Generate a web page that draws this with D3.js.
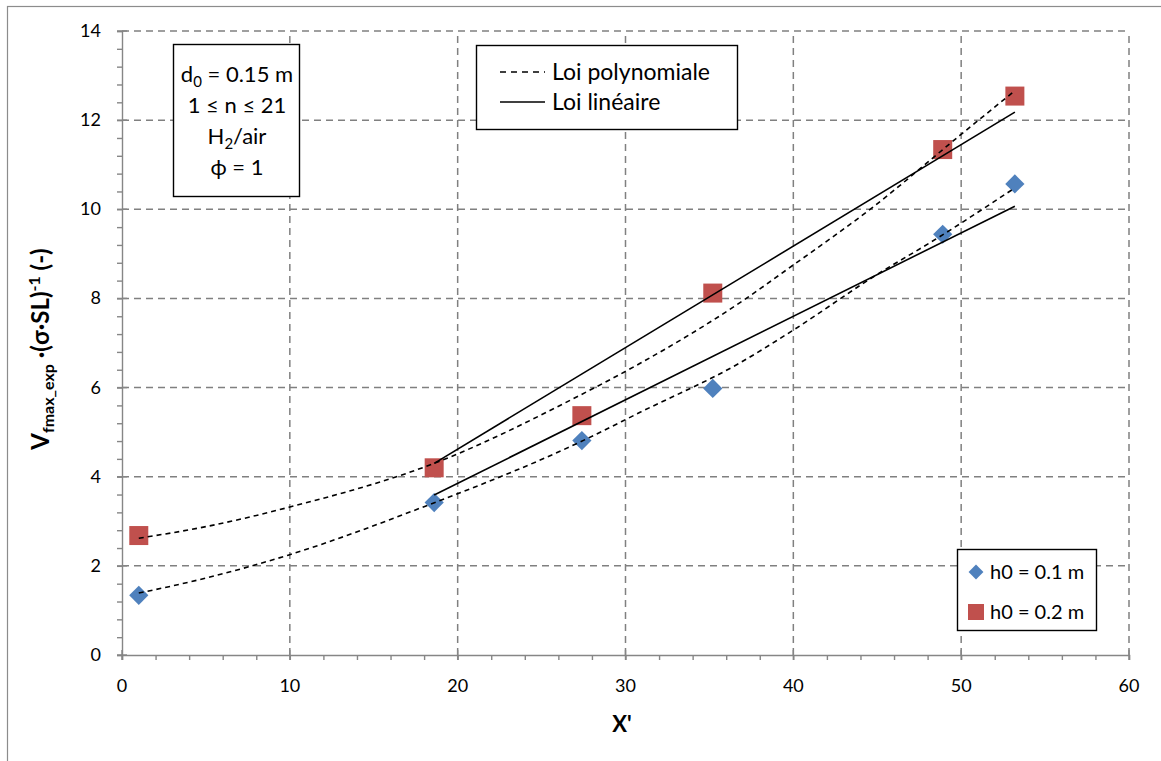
<!DOCTYPE html>
<html><head><meta charset="utf-8">
<script src="https://cdn.jsdelivr.net/npm/d3@7"></script>
<style>
body{margin:0;background:#fff;}
text{font-family:Lato,"Open Sans",sans-serif;fill:#000;}
</style></head>
<body><svg id="c" width="1161" height="761"></svg>
<script>
// ---- data ----
const xH1 = [1, 18.6, 27.4, 35.2, 48.9, 53.2];
const yH1 = [1.34, 3.42, 4.81, 5.98, 9.44, 10.57];
const xH2 = [1, 18.6, 27.4, 35.2, 48.9, 53.2];
const yH2 = [2.68, 4.2, 5.37, 8.12, 11.34, 12.54];
// polynomial trend curves
const polyH1x = [1, 4.5, 9.9, 17.8, 27.3, 30.9, 36.8, 40, 44.75, 48.7, 53.2];
const polyH1y = [1.39, 1.68, 2.24, 3.3, 4.78, 5.45, 6.55, 7.29, 8.48, 9.38, 10.48];
const polyH2x = [1, 5, 10, 18.6, 27.3, 30.9, 36.8, 40, 44.75, 49.9, 53.2];
const polyH2y = [2.62, 2.88, 3.32, 4.3, 5.83, 6.55, 7.9, 8.75, 10.05, 11.65, 12.66];
// linear trend lines
const linH1x = [18.6, 53.2];
const linH1y = [3.59, 10.07];
const linH2x = [18.6, 53.2];
const linH2y = [4.3, 12.18];
const xTicks = [0, 10, 20, 30, 40, 50, 60];
const yTicks = [0, 2, 4, 6, 8, 10, 12, 14];
const legendSeries = ["h0 = 0.1 m", "h0 = 0.2 m"];
const legendLines = ["Loi polynomiale", "Loi linéaire"];

const svg = d3.select("#c");
const L = 122, R = 1129, T = 31, B = 655;
const x = d3.scaleLinear().domain([0, 60]).range([L, R]);
const y = d3.scaleLinear().domain([0, 14]).range([B, T]);
const axisCol = "#868686";

// outer border
svg.append("rect").attr("x", 7.5).attr("y", 6.5).attr("width", 1170).attr("height", 770)
  .attr("fill", "none").attr("stroke", "#8c8c8c").attr("stroke-width", 1.2);

// grid
const g = svg.append("g");
g.selectAll(".gx").data(xTicks.slice(1)).join("line")
  .attr("x1", d => x(d)).attr("x2", d => x(d)).attr("y1", B).attr("y2", T)
  .attr("stroke", "#808080").attr("stroke-width", 1.5).attr("stroke-dasharray", "7,5");
g.selectAll(".gy").data(yTicks.slice(1)).join("line")
  .attr("x1", L).attr("x2", R).attr("y1", d => y(d)).attr("y2", d => y(d))
  .attr("stroke", "#808080").attr("stroke-width", 1.5).attr("stroke-dasharray", "7,5");

// axes
const xAxis = d3.axisBottom(x).tickValues(d3.range(0, 61, 2)).tickSize(5).tickFormat("");
const xa = svg.append("g").attr("transform", `translate(0,${B})`).call(xAxis);
const yAxis = d3.axisLeft(y).tickValues(d3.range(0, 36).map(i => +(i * 0.4).toFixed(1))).tickSize(5).tickFormat("");
const ya = svg.append("g").attr("transform", `translate(${L},0)`).call(yAxis);
[xa, ya].forEach(a => { a.selectAll("path,line").attr("stroke", axisCol).attr("stroke-width", 1.4); });
// major ticks crossing
xa.append("g").selectAll("line").data(xTicks).join("line")
  .attr("x1", d => x(d)).attr("x2", d => x(d)).attr("y1", -5).attr("y2", 5)
  .attr("stroke", axisCol).attr("stroke-width", 1.4);
ya.append("g").selectAll("line").data(yTicks).join("line")
  .attr("y1", d => y(d)).attr("y2", d => y(d)).attr("x1", -5).attr("x2", 5)
  .attr("stroke", axisCol).attr("stroke-width", 1.4);
// tick labels
svg.append("g").selectAll("text").data(xTicks).join("text")
  .attr("x", d => x(d)).attr("y", 692).attr("text-anchor", "middle")
  .attr("font-size", 18).text(d => d);
svg.append("g").selectAll("text").data(yTicks).join("text")
  .attr("x", 101).attr("y", d => y(d) + 6).attr("text-anchor", "end")
  .attr("font-size", 18).text(d => d);

// axis titles
svg.append("text").attr("x", 622).attr("y", 732).attr("text-anchor", "middle")
  .attr("font-size", 22).attr("font-weight", "bold").text("X'");
const yt = svg.append("text").attr("transform", "translate(49,349) rotate(-90)")
  .attr("text-anchor", "middle").attr("font-size", 24).attr("font-weight", "bold");
yt.append("tspan").text("V");
yt.append("tspan").attr("font-size", 16).attr("dy", 5).text("fmax_exp");
yt.append("tspan").attr("dy", -5).text(" ·(σ·SL)");
yt.append("tspan").attr("font-size", 16).attr("dy", -9).text("-1");
yt.append("tspan").attr("dy", 9).text(" (-)");

// markers
const blue = "#4F81BD", red = "#C0504D";
svg.append("g").selectAll("path").data(d3.zip(xH1, yH1)).join("path")
  .attr("transform", d => `translate(${x(d[0])},${y(d[1])}) rotate(45)`)
  .attr("d", d3.symbol().type(d3.symbolSquare).size(185)).attr("fill", blue);
svg.append("g").selectAll("rect").data(d3.zip(xH2, yH2)).join("rect")
  .attr("x", d => x(d[0]) - 9.5).attr("y", d => y(d[1]) - 9.5).attr("width", 19).attr("height", 19)
  .attr("fill", red);

// trend lines
const line = d3.line().x(d => x(d[0])).y(d => y(d[1])).curve(d3.curveMonotoneX);
[[polyH1x, polyH1y], [polyH2x, polyH2y]].forEach(([xs, ys]) => {
  svg.append("path").datum(d3.zip(xs, ys)).attr("d", line).attr("fill", "none")
    .attr("stroke", "#000").attr("stroke-width", 1.6).attr("stroke-dasharray", "5,4");
});
[[linH1x, linH1y], [linH2x, linH2y]].forEach(([xs, ys]) => {
  svg.append("path").datum(d3.zip(xs, ys)).attr("d", line).attr("fill", "none")
    .attr("stroke", "#000").attr("stroke-width", 1.6);
});

// info box
svg.append("rect").attr("x", 173.5).attr("y", 44.5).attr("width", 126).attr("height", 152)
  .attr("fill", "#fff").attr("stroke", "#000").attr("stroke-width", 1.4);
const cx = 237;
const t1 = svg.append("text").attr("x", cx).attr("y", 82).attr("text-anchor", "middle").attr("font-size", 22);
t1.append("tspan").text("d");
t1.append("tspan").attr("font-size", 15).attr("dy", 5).text("0");
t1.append("tspan").attr("dy", -5).text(" = 0.15 m");
svg.append("text").attr("x", cx).attr("y", 113).attr("text-anchor", "middle").attr("font-size", 22).text("1 ≤ n ≤ 21");
const t3 = svg.append("text").attr("x", cx).attr("y", 144).attr("text-anchor", "middle").attr("font-size", 22);
t3.append("tspan").text("H");
t3.append("tspan").attr("font-size", 15).attr("dy", 5).text("2");
t3.append("tspan").attr("dy", -5).text("/air");
svg.append("text").attr("x", cx).attr("y", 175).attr("text-anchor", "middle").attr("font-size", 22).text("ϕ = 1");

// top legend
svg.append("rect").attr("x", 476.5).attr("y", 45.5).attr("width", 261).attr("height", 84)
  .attr("fill", "#fff").attr("stroke", "#000").attr("stroke-width", 1.4);
legendLines.forEach((t, i) => {
  const yy = 72 + i * 30;
  svg.append("line").attr("x1", 500).attr("x2", 545).attr("y1", yy).attr("y2", yy)
    .attr("stroke", "#000").attr("stroke-width", 1.6).attr("stroke-dasharray", "6,5".split && i === 0 ? "6,5" : null);
  svg.append("text").attr("x", 552).attr("y", yy + 8).attr("font-size", 23).text(t);
});

// bottom-right legend
svg.append("rect").attr("x", 957.5).attr("y", 549.5).attr("width", 139).attr("height", 81)
  .attr("fill", "#fff").attr("stroke", "#000").attr("stroke-width", 1.4);
legendSeries.forEach((t, i) => {
  const yy = 572 + i * 40;
  if (i === 0) {
    svg.append("path").attr("transform", `translate(976,${yy}) rotate(45)`)
      .attr("d", d3.symbol().type(d3.symbolSquare).size(110)).attr("fill", blue);
  } else {
    svg.append("rect").attr("x", 968).attr("y", yy - 8).attr("width", 16).attr("height", 16).attr("fill", red);
  }
  svg.append("text").attr("x", 990).attr("y", yy + 7).attr("font-size", 20).text(t);
});
</script></body></html>
